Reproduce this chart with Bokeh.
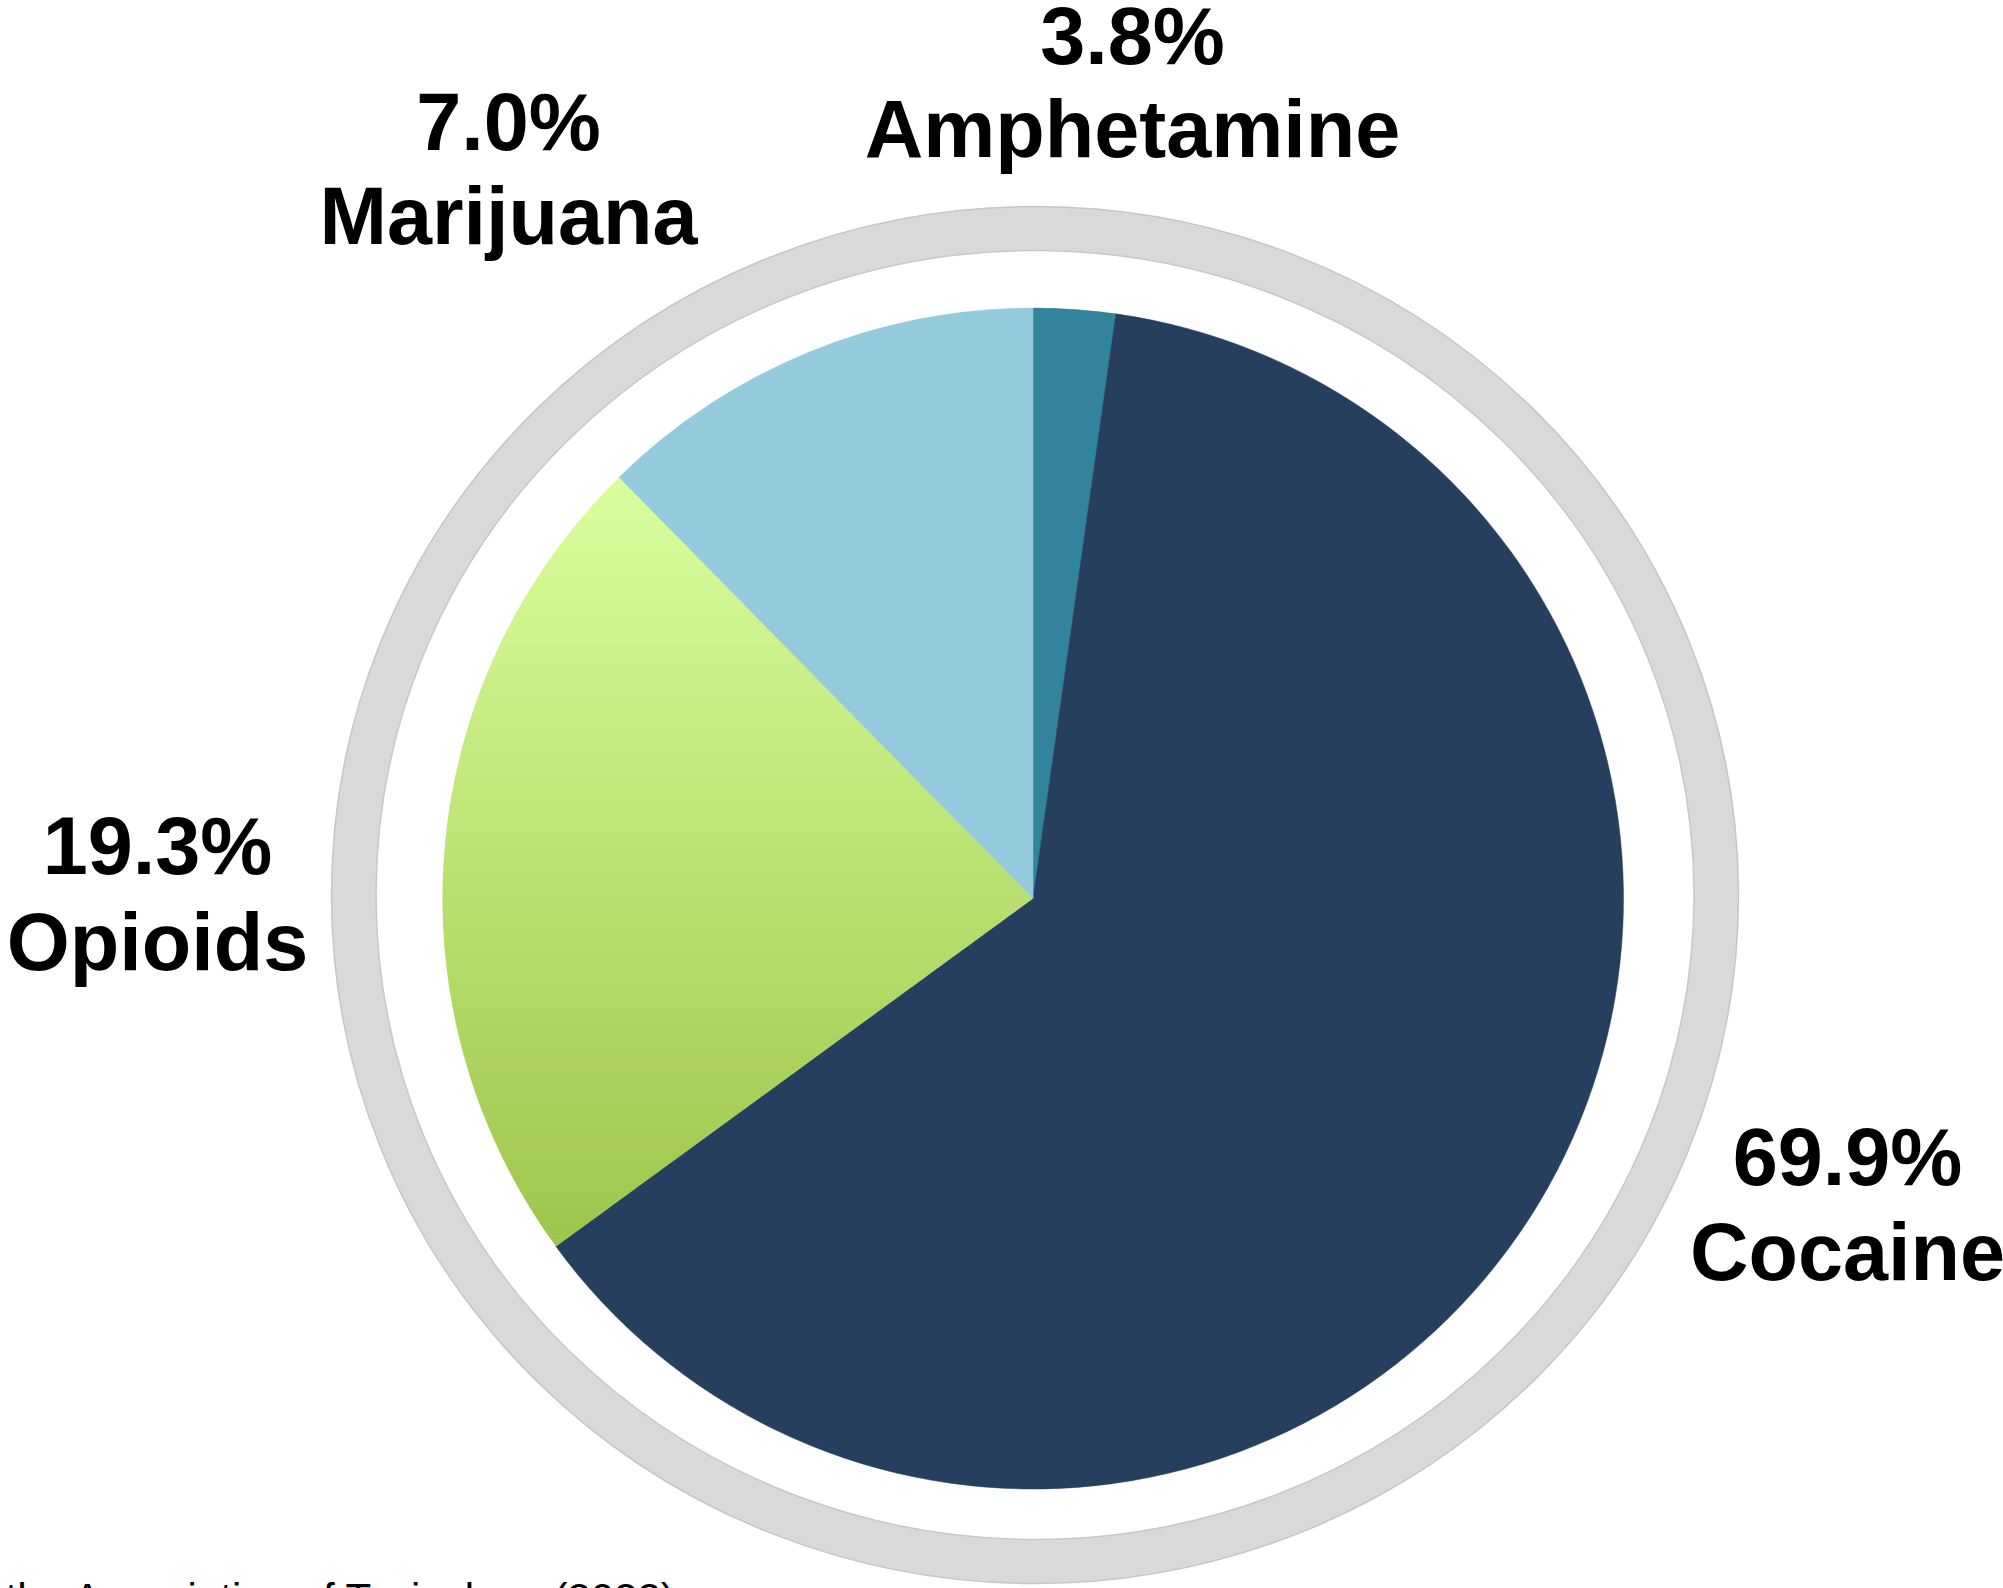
import numpy as np
from bokeh.plotting import figure
from bokeh.models import Range1d
from bokeh.embed import file_html
from bokeh.resources import INLINE
from bokeh.core.properties import value

# ---- data (slice shares as drawn in the picture, labels as printed) ----
categories = ["Amphetamine", "Cocaine", "Opioids", "Marijuana"]
slice_values = [2.24, 62.73, 22.67, 12.36]
label_pcts = ["3.8%", "69.9%", "19.3%", "7.0%"]
colors = ["#31849B", "#263F5F", None, "#93CBDC"]
grad_top, grad_bottom = "#DAFE9D", "#9EC54A"

W, H = 2003, 1588
p = figure(width=W, height=H, output_backend="svg", toolbar_location=None,
           x_range=Range1d(0, W), y_range=Range1d(0, H),
           x_axis_type=None, y_axis_type=None, min_border=0)
p.grid.visible = False
p.outline_line_color = None
p.background_fill_color = "white"
p.border_fill_color = "white"

def Y(sy):
    return 1588 - sy

# ---- outer grey ring ----
rcx, rcy = 1034.5, Y(894.5)
p.ellipse(x=[rcx], y=[rcy], width=[1407], height=[1377],
          fill_color="#D9D9D9", line_color="#C6C6C6", line_width=1.5)
p.ellipse(x=[rcx], y=[rcy], width=[1318], height=[1289],
          fill_color="white", line_color="#C8C8C8", line_width=1.5)

# ---- pie ----
cx, cy, R = 1032.5, Y(898), 590.5
vals = np.array(slice_values, dtype=float)
fr = vals / vals.sum()
ends = np.cumsum(fr) * 2 * np.pi
starts = ends - fr * 2 * np.pi

def hexrgb(h):
    h = h.lstrip("#")
    return np.array([int(h[i:i + 2], 16) for i in (0, 2, 4)], dtype=float)

def clip_half(poly, y0, keep_above):
    out = []
    n = len(poly)
    for i in range(n):
        a, b = poly[i], poly[(i + 1) % n]
        ina = (a[1] >= y0) if keep_above else (a[1] <= y0)
        inb = (b[1] >= y0) if keep_above else (b[1] <= y0)
        if ina:
            out.append(a)
        if ina != inb:
            t = (y0 - a[1]) / (b[1] - a[1])
            out.append((a[0] + t * (b[0] - a[0]), y0))
    return out

for i, cat in enumerate(categories):
    s_cw, e_cw = starts[i], ends[i]
    if colors[i] is not None:
        p.wedge(x=[cx], y=[cy], radius=R,
                start_angle=[np.pi / 2 - e_cw], end_angle=[np.pi / 2 - s_cw],
                fill_color=colors[i], line_color=colors[i], line_width=0.5)
    else:
        th = np.linspace(s_cw, e_cw, 200)
        poly = [(cx, cy)] + [(cx + R * np.sin(t), cy + R * np.cos(t)) for t in th]
        ys = [q[1] for q in poly]
        ytop, ybot = max(ys), min(ys)
        nb = 80
        edges = np.linspace(ybot, ytop, nb + 1)
        ct, cb = hexrgb(grad_top), hexrgb(grad_bottom)
        xs_all, ys_all, cols = [], [], []
        for k in range(nb):
            y0, y1 = edges[k], edges[k + 1] + 0.6
            part = clip_half(poly, y0, True)
            if len(part) < 3:
                continue
            part = clip_half(part, y1, False)
            if len(part) < 3:
                continue
            f = ((edges[k] + edges[k + 1]) / 2 - ybot) / (ytop - ybot)
            c = cb + (ct - cb) * f
            xs_all.append([q[0] for q in part])
            ys_all.append([q[1] for q in part])
            cols.append("#%02X%02X%02X" % tuple(int(round(v)) for v in c))
        p.patches(xs=xs_all, ys=ys_all, fill_color=cols, line_color=None)

# ---- labels ----
lab_x = {"Amphetamine": 1132, "Cocaine": 1847, "Opioids": 157, "Marijuana": 508}
pct_base = {"Amphetamine": 35, "Cocaine": 1156, "Opioids": 845, "Marijuana": 121}
name_base = {"Amphetamine": 128, "Cocaine": 1251, "Opioids": 941, "Marijuana": 215}

for i, cat in enumerate(categories):
    p.text(x=[lab_x[cat]], y=[Y(pct_base[cat])], text=[label_pcts[i]],
           text_font=value("Liberation Sans"), text_font_style="bold",
           text_font_size="81px", text_align="center", text_baseline="alphabetic",
           text_color="black")
    p.text(x=[lab_x[cat]], y=[Y(name_base[cat])], text=[cat],
           text_font=value("Liberation Sans"), text_font_style="bold",
           text_font_size="81px", text_align="center", text_baseline="alphabetic",
           text_color="black")

# ---- source note (cut off at the bottom edge) ----
p.text(x=[5], y=[Y(1598)], text=["the Association of Toxicology (2022)"],
       text_font=value("Liberation Sans"), text_font_size="42px",
       text_align="left", text_baseline="alphabetic", text_color="black")

open("out.html", "w").write(file_html(p, INLINE))
